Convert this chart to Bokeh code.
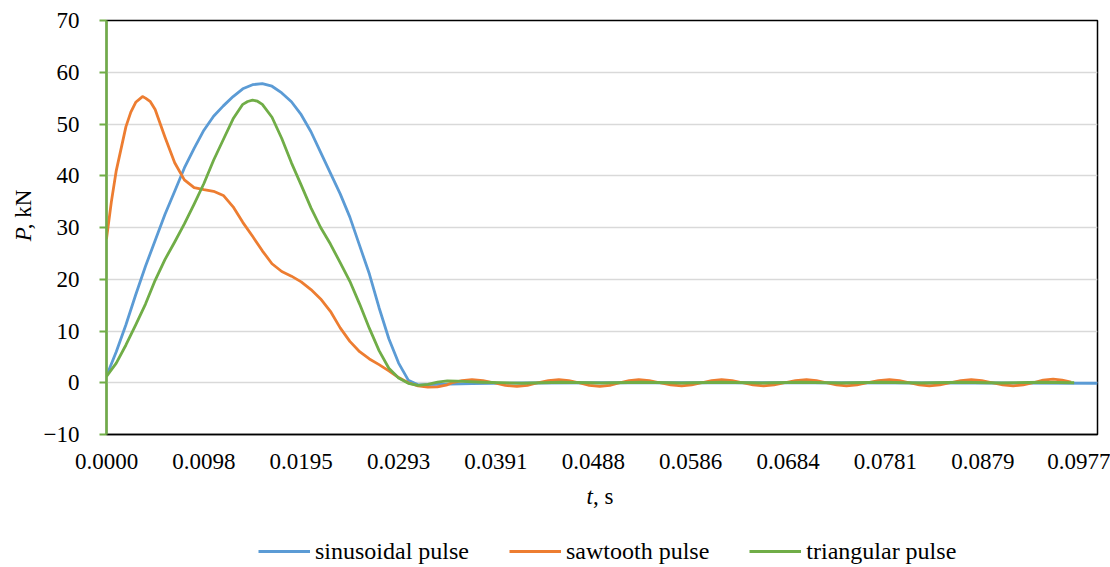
import math
from bokeh.plotting import figure
from bokeh.models import (Range1d, FixedTicker, Legend, LegendItem, Label)
from bokeh.layouts import column, row
from bokeh.embed import file_html
from bokeh.resources import INLINE

# ---------------- data ----------------
x_tick_labels = ["0.0000", "0.0098", "0.0195", "0.0293", "0.0391", "0.0488",
                 "0.0586", "0.0684", "0.0781", "0.0879", "0.0977"]
y_ticks = [-10, 0, 10, 20, 30, 40, 50, 60, 70]

t_sin = [0.0, 0.00098, 0.00195, 0.00293, 0.00391, 0.00488, 0.00586, 0.00684,
         0.00781, 0.00879, 0.00977, 0.01074, 0.01172, 0.01270, 0.01367, 0.01465,
         0.01563, 0.01660, 0.01758, 0.01855, 0.01953, 0.02051, 0.02148, 0.02246,
         0.02344, 0.02441, 0.02539, 0.02637, 0.02734, 0.02832, 0.02930, 0.03027,
         0.03125, 0.03223, 0.03666, 0.04167, 0.04968, 0.06971, 0.08974, 0.0994]
p_sin = [1.3, 6.0, 11.2, 17.0, 22.5, 27.5, 32.5, 37.0,
         41.5, 45.3, 48.8, 51.5, 53.5, 55.3, 56.8, 57.6,
         57.8, 57.3, 56.0, 54.3, 51.8, 48.5, 44.5, 40.5,
         36.5, 32.0, 26.5, 21.0, 14.5, 8.5, 3.8, 0.5,
         -0.4, -0.35, -0.15, -0.05, 0.0, 0.0, -0.05, -0.1]

t_saw = [0.0, 0.00049, 0.00098, 0.00195, 0.00244, 0.00293, 0.00361, 0.00391,
         0.00440, 0.00488, 0.00586, 0.00684,
         0.00781, 0.00879, 0.00977, 0.01074, 0.01172, 0.01270, 0.01367, 0.01465,
         0.01563, 0.01660, 0.01758, 0.01855, 0.01953, 0.02051, 0.02148, 0.02246,
         0.02344, 0.02441, 0.02539, 0.02637, 0.02734, 0.02832, 0.02930, 0.03027,
         0.03125, 0.03223, 0.03320, 0.03418,
         0.03466, 0.03566, 0.03666, 0.03776, 0.03886, 0.04001, 0.04117, 0.04222,
         0.04327, 0.04432, 0.04537, 0.04637, 0.04738, 0.04843, 0.04948, 0.05048,
         0.05148, 0.05243, 0.05339, 0.05444, 0.05549, 0.05659, 0.05769, 0.05869,
         0.05970, 0.06070, 0.06170, 0.06275, 0.06380, 0.06485, 0.06591, 0.06696,
         0.06801, 0.06911, 0.07021, 0.07121, 0.07222, 0.07322, 0.07422, 0.07527,
         0.07632, 0.07742, 0.07853, 0.07953, 0.08053, 0.08153, 0.08253, 0.08358,
         0.08464, 0.08569, 0.08674, 0.08779, 0.08884, 0.08989, 0.09095, 0.09195,
         0.09295, 0.09395, 0.09495, 0.09585, 0.09675]
p_saw = [27.8, 35.0, 41.0, 49.5, 52.3, 54.2, 55.3, 55.0,
         54.3, 52.8, 47.5, 42.5,
         39.2, 37.7, 37.3, 37.0, 36.2, 34.0, 31.0, 28.3,
         25.5, 23.0, 21.5, 20.6, 19.5, 18.0, 16.2, 13.8,
         10.6, 8.0, 6.0, 4.6, 3.5, 2.3, 1.0, 0.0,
         -0.6, -0.85, -0.8, -0.4,
         0.0, 0.42, 0.6, 0.42, 0.0, -0.5, -0.7, -0.5,
         0.0, 0.42, 0.6, 0.42, 0.0, -0.5, -0.7, -0.5,
         0.0, 0.42, 0.6, 0.42, 0.0, -0.42, -0.6, -0.42,
         0.0, 0.42, 0.6, 0.42, 0.0, -0.42, -0.6, -0.42,
         0.0, 0.42, 0.6, 0.42, 0.0, -0.42, -0.6, -0.42,
         0.0, 0.42, 0.6, 0.42, 0.0, -0.42, -0.6, -0.42,
         0.0, 0.42, 0.6, 0.42, 0.0, -0.42, -0.6, -0.42,
         0.0, 0.5, 0.7, 0.5, 0.1]

t_tri = [0.0, 0.00098, 0.00195, 0.00293, 0.00391, 0.00488, 0.00586, 0.00684,
         0.00781, 0.00879, 0.00977, 0.01074, 0.01172, 0.01270, 0.01367, 0.01416,
         0.01465, 0.01514,
         0.01563, 0.01660, 0.01758, 0.01855, 0.01953, 0.02051, 0.02148, 0.02246,
         0.02344, 0.02441, 0.02539, 0.02637, 0.02734, 0.02832, 0.02930, 0.03027,
         0.03125, 0.03223, 0.03320, 0.03418, 0.03516,
         0.03766, 0.04167, 0.04567, 0.04968, 0.05369, 0.05769, 0.06170, 0.06571,
         0.06971, 0.07372, 0.07772, 0.08173, 0.08574, 0.08974, 0.09375, 0.09706]
p_tri = [1.2, 3.8, 7.3, 11.2, 15.2, 19.8, 23.8, 27.2,
         30.7, 34.5, 38.5, 43.0, 47.0, 51.0, 53.8, 54.35,
         54.6, 54.4,
         53.8, 51.3, 47.2, 42.5, 38.2, 33.8, 30.0, 26.8,
         23.2, 19.6, 15.2, 10.5, 6.2, 2.8, 0.9, -0.1,
         -0.5, -0.3, 0.1, 0.35, 0.3,
         0.1, -0.1, 0.1, -0.05, 0.1, -0.05, 0.1, -0.05,
         0.1, -0.05, 0.1, -0.05, 0.1, -0.05, 0.1, 0.0]

series_names = ["sinusoidal pulse", "sawtooth pulse", "triangular pulse"]
series_colors = ["#5B9BD5", "#ED7D31", "#70AD47"]

FONT = "Liberation Serif"
FS = "23px"
LFS = "24px"

# ---------------- main plot ----------------
p = figure(width=1070, height=482, output_backend="svg", toolbar_location=None,
           x_range=Range1d(0, 0.0994), y_range=Range1d(-10, 70),
           min_border_left=64, min_border_right=13, min_border_top=20,
           min_border_bottom=48)
p.background_fill_color = "white"
p.border_fill_color = "white"
p.outline_line_color = "black"
p.outline_line_width = 1.5

x_tick_pos = [k * 10 / 1024 for k in range(len(x_tick_labels))]
p.xaxis.ticker = FixedTicker(ticks=x_tick_pos)
p.xaxis.major_label_overrides = {pos: lab for pos, lab in zip(x_tick_pos, x_tick_labels)}
p.xaxis.axis_line_color = "black"
p.xaxis.axis_line_width = 1.5
p.xaxis.major_tick_out = 0
p.xaxis.major_tick_in = 0
p.xaxis.minor_tick_line_color = None
p.xaxis.major_label_standoff = 19
p.xaxis.major_label_text_font = FONT
p.xaxis.major_label_text_font_size = FS
p.xaxis.major_label_text_color = "black"

p.yaxis.ticker = FixedTicker(ticks=y_ticks)
p.yaxis.major_label_overrides = {-10: "\u221210"}
p.yaxis.axis_line_color = "#70AD47"
p.yaxis.axis_line_width = 2.5
p.yaxis.major_tick_line_color = "#70AD47"
p.yaxis.major_tick_line_width = 2
p.yaxis.major_tick_out = 7
p.yaxis.major_tick_in = 0
p.yaxis.minor_tick_line_color = None
p.yaxis.major_label_standoff = 20
p.yaxis.major_label_text_font = FONT
p.yaxis.major_label_text_font_size = FS
p.yaxis.major_label_text_color = "black"

p.xgrid.visible = False
p.ygrid.ticker = FixedTicker(ticks=y_ticks)
p.ygrid.grid_line_color = "#D9D9D9"
p.ygrid.grid_line_width = 1.5

for t, v, c in zip([t_sin, t_saw, t_tri], [p_sin, p_saw, p_tri], series_colors):
    p.line(t, v, line_color=c, line_width=2.8, line_join="round")


def blank(w, h):
    f = figure(width=w, height=h, output_backend="svg", toolbar_location=None,
               x_range=Range1d(0, w), y_range=Range1d(0, h),
               x_axis_type=None, y_axis_type=None, min_border=0)
    f.outline_line_color = None
    f.background_fill_color = "white"
    f.border_fill_color = "white"
    f.grid.visible = False
    return f


def lab(x, y, text, italic=False, angle=0.0, baseline="alphabetic"):
    return Label(x=x, y=y, text=text, angle=angle, text_font=FONT, text_font_size=FS,
                 text_font_style="italic" if italic else "normal",
                 text_color="black", text_align="left", text_baseline=baseline)

# ---------------- y-axis title panel ----------------
yfig = blank(40, 482)
yfig.add_layout(lab(23, 225, "P", italic=True, angle=math.pi / 2, baseline="middle"))
yfig.add_layout(lab(23, 239, ", kN", angle=math.pi / 2, baseline="middle"))

# ---------------- x-axis title + legend panel ----------------
bfig = blank(1110, 85)
bfig.add_layout(lab(586, 71, "t", italic=True))
bfig.add_layout(lab(592.4, 71, ", s"))
leg_r = [bfig.line([-60, -50], [-60, -60], line_color=c, line_width=2.8) for c in series_colors]
legend = Legend(items=[LegendItem(label=n, renderers=[r]) for n, r in zip(series_names, leg_r)],
                orientation="horizontal", location=(258, 2.5),
                glyph_width=52, glyph_height=20, label_standoff=5, spacing=40,
                padding=0, margin=0, border_line_alpha=0, background_fill_alpha=0,
                label_text_font=FONT, label_text_font_size=LFS, label_text_color="black")
bfig.add_layout(legend, "center")

layout = column(row(yfig, p), bfig)
open("out.html", "w").write(file_html(layout, INLINE))
